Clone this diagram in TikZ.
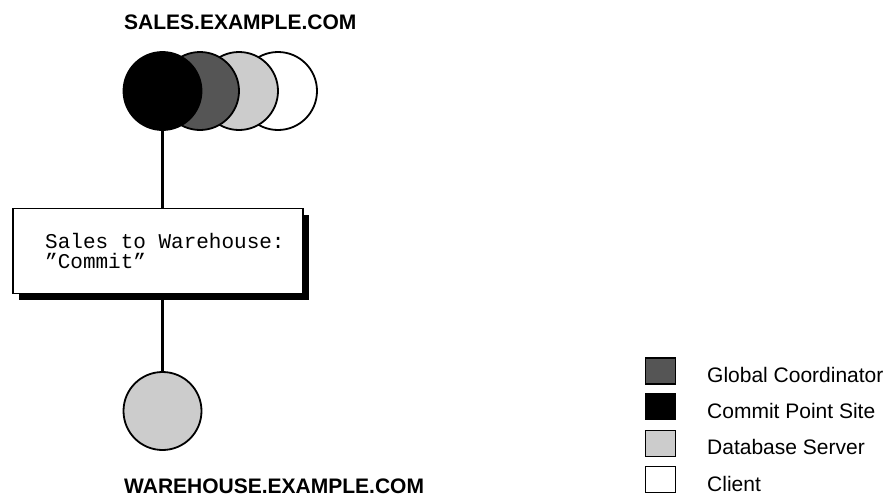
\documentclass[tikz,border=0pt]{standalone}
\usepackage{fontspec}
\setmainfont{Liberation Sans}
\newfontfamily\monof{Liberation Mono}
\usetikzlibrary{shadows}
\definecolor{darkg}{HTML}{555555}
\definecolor{lightg}{HTML}{CCCCCC}
\begin{document}
\begin{tikzpicture}[x=1pt,y=-1pt,
  site/.style={circle,draw=black,line width=1.8pt,minimum size=78pt,inner sep=0pt},
  conn/.style={draw=black,line width=2.2pt},
  msgbox/.style={draw=black,line width=1.8pt,fill=white,minimum width=290pt,minimum height=85pt,inner sep=0pt,
     drop shadow={shadow xshift=6pt,shadow yshift=-6pt,fill=black,opacity=1}},
  lsq/.style={draw=black,line width=1.6pt,minimum width=30pt,minimum height=26pt,inner sep=0pt},
  lbl/.style={anchor=base west,inner sep=0pt,font=\fontsize{21}{24}\selectfont},
  hostlbl/.style={anchor=base west,inner sep=0pt,font=\fontsize{21}{24}\selectfont\bfseries},
  msgtxt/.style={anchor=base west,inner sep=0pt,align=left,font=\fontsize{21}{20}\selectfont\monof}]
\useasboundingbox (0,0) rectangle (887,498);
% sales site circles
\node[site,fill=white] (c4) at (278,91) {};
\node[site,fill=lightg] (c3) at (239,91) {};
\node[site,fill=darkg] (c2) at (200,91) {};
\node[site,fill=black] (c1) at (162.5,91) {};
\node[hostlbl] (sales) at (124,29.5) {SALES.EXAMPLE.COM};
% message box
\node[msgbox] (box) at (158,251) {};
\node[msgtxt] (t1) at (45,248) {Sales to Warehouse:};
\node[msgtxt] (t2) at (45,268) {”Commit”};
% warehouse
\node[site,fill=lightg] (w) at (162.5,411) {};
\node[hostlbl] (wh) at (124,493) {WAREHOUSE.EXAMPLE.COM};
% connectors
\draw[conn] (c1.south) -- (c1.south |- box.north);
\draw[conn] (w.north |- box.south) ++(0,6) -- (w.north);
% legend
\node[lsq,fill=darkg] (l1) at (660.5,371) {};
\node[lsq,fill=black] (l2) at (660.5,406.5) {};
\node[lsq,fill=lightg] (l3) at (660.5,443.5) {};
\node[lsq,fill=white] (l4) at (660.5,479.5) {};
\node[lbl] (g1) at (707,382) {Global Coordinator};
\node[lbl] (g2) at (707,418) {Commit Point Site};
\node[lbl] (g3) at (707,454) {Database Server};
\node[lbl] (g4) at (707,491) {Client};
\end{tikzpicture}
\end{document}
